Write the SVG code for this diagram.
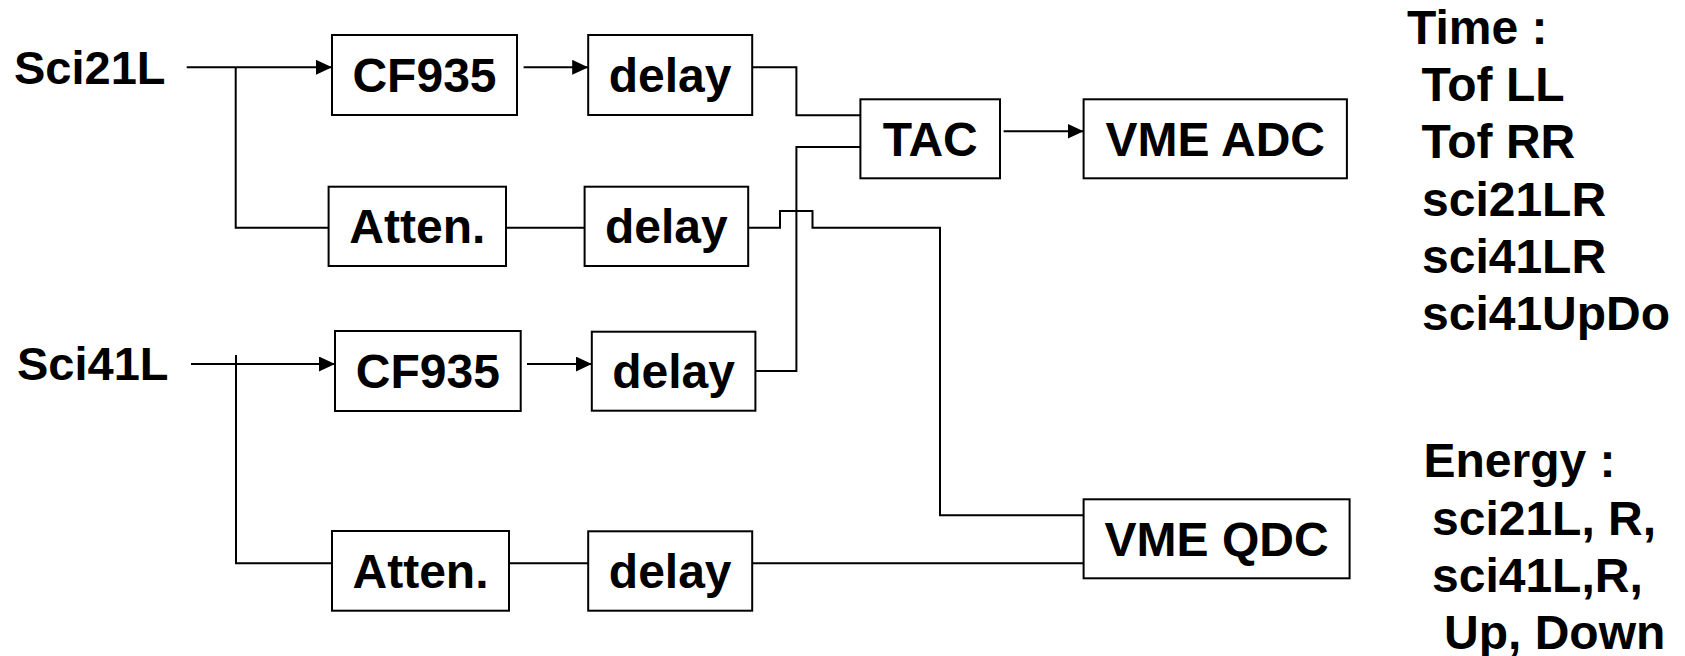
<svg xmlns="http://www.w3.org/2000/svg" width="1685" height="656" viewBox="0 0 1685 656">
  <style>
    .box { fill: #ffffff; stroke: #000000; stroke-width: 2; }
    .lbl { font-family: "Liberation Sans", Arial, sans-serif; font-weight: bold; font-size: 48px; fill: #000000; text-anchor: middle; }
    .src { font-family: "Liberation Sans", Arial, sans-serif; font-weight: bold; font-size: 47px; fill: #000000; }
    .note { font-family: "Liberation Sans", Arial, sans-serif; font-weight: bold; font-size: 48px; fill: #000000; }
    .wire { fill: none; stroke: #000000; stroke-width: 2; }
  </style>
  <defs>
    <marker id="arrow" markerUnits="userSpaceOnUse" markerWidth="16" markerHeight="15" refX="16" refY="7.5" orient="auto">
      <path d="M0,0 L16,7.5 L0,15 z" fill="#000000"/>
    </marker>
  </defs>
  <rect width="1685" height="656" fill="#ffffff"/>

  <!-- signal wiring -->
  <g id="connectors">
    <path class="wire" d="M186.7,67.3 H332" marker-end="url(#arrow)"/>
    <path class="wire" d="M235.7,67.3 V227.7 H328.6"/>
    <path class="wire" d="M523.6,67.3 H588.2" marker-end="url(#arrow)"/>
    <path class="wire" d="M506,227.7 H584.6"/>
    <path class="wire" d="M748,67.3 H796.4 V115.3 H860.4"/>
    <path class="wire" d="M748,371 H796.4 V147 H860.4"/>
    <path class="wire" d="M1003.6,131.3 H1083.6" marker-end="url(#arrow)"/>
    <path class="wire" d="M748.2,227.7 H780 V211 H812.5 V227.7 H940 V515.3 H1083.6"/>
    <path class="wire" d="M191,364 H335" marker-end="url(#arrow)"/>
    <path class="wire" d="M236,355 V563.3 H332"/>
    <path class="wire" d="M527,364 H591.8" marker-end="url(#arrow)"/>
    <path class="wire" d="M509,563.3 H588.2"/>
    <path class="wire" d="M752.1,563.3 H1083.6"/>
  </g>

  <!-- input labels -->
  <g id="sci21l"><text class="src" x="14" y="83.5">Sci21L</text></g>
  <g id="sci41l"><text class="src" x="17" y="380">Sci41L</text></g>

  <!-- modules -->
  <g id="cf935-1">
    <rect class="box" x="332" y="35" width="185" height="80"/>
    <text class="lbl" x="424.5" y="91.7">CF935</text>
  </g>
  <g id="delay-1">
    <rect class="box" x="588.2" y="35" width="164" height="80"/>
    <text class="lbl" x="670" y="91.7">delay</text>
  </g>
  <g id="atten-1">
    <rect class="box" x="328.6" y="186.7" width="177.4" height="79.3"/>
    <text class="lbl" x="417.3" y="243.3">Atten.</text>
  </g>
  <g id="delay-2">
    <rect class="box" x="584.6" y="186.7" width="163.6" height="79.3"/>
    <text class="lbl" x="666.4" y="243.3">delay</text>
  </g>
  <g id="tac">
    <rect class="box" x="860.4" y="99.3" width="139.6" height="79"/>
    <text class="lbl" x="930.2" y="156">TAC</text>
  </g>
  <g id="vme-adc">
    <rect class="box" x="1083.6" y="99.3" width="263.3" height="79"/>
    <text class="lbl" x="1215.2" y="156">VME ADC</text>
  </g>
  <g id="cf935-2">
    <rect class="box" x="335" y="331" width="185.7" height="80"/>
    <text class="lbl" x="427.8" y="388">CF935</text>
  </g>
  <g id="delay-3">
    <rect class="box" x="591.8" y="331.7" width="163.6" height="79"/>
    <text class="lbl" x="673.6" y="388.3">delay</text>
  </g>
  <g id="atten-2">
    <rect class="box" x="332" y="531" width="177" height="79.7"/>
    <text class="lbl" x="420.5" y="588">Atten.</text>
  </g>
  <g id="delay-4">
    <rect class="box" x="588.2" y="531.3" width="164" height="79.4"/>
    <text class="lbl" x="670.2" y="588">delay</text>
  </g>
  <g id="vme-qdc">
    <rect class="box" x="1083.6" y="499.3" width="266" height="79"/>
    <text class="lbl" x="1216.6" y="556">VME QDC</text>
  </g>

  <!-- recorded quantities -->
  <g id="time-list">
    <text class="note" x="1407" y="44">Time :</text>
    <text class="note" x="1421.5" y="100.7">Tof LL</text>
    <text class="note" x="1421.5" y="158.3">Tof RR</text>
    <text class="note" x="1422" y="215.5">sci21LR</text>
    <text class="note" x="1422" y="272.7">sci41LR</text>
    <text class="note" x="1422" y="330">sci41UpDo</text>
  </g>
  <g id="energy-list">
    <text class="note" x="1423.5" y="476.7">Energy :</text>
    <text class="note" x="1432" y="535">sci21L, R,</text>
    <text class="note" x="1432" y="591.7">sci41L,R,</text>
    <text class="note" x="1444" y="649">Up, Down</text>
  </g>
</svg>
